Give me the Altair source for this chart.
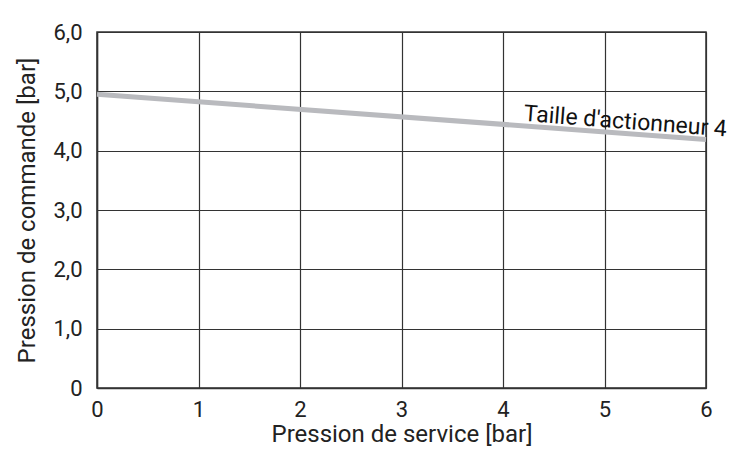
import altair as alt
import pandas as pd

# Data
x_service = [0, 6]
y_commande = [4.95, 4.19]
label_text = ["Taille d'actionneur 4"]
label_x = [4.205]
label_y = [4.62]

line_df = pd.DataFrame({"x": x_service, "y": y_commande})
lab_df = pd.DataFrame({"x": label_x, "y": label_y, "t": label_text})

FONT = "Roboto"
GRID = "#333333"

xscale = alt.Scale(domain=[0, 6], nice=False, zero=False)
yscale = alt.Scale(domain=[0, 6], nice=False, zero=False)

xaxis = alt.Axis(
    title="Pression de service [bar]", values=[0, 1, 2, 3, 4, 5, 6], format="d",
    grid=True, gridColor=GRID, gridWidth=1.2, gridOpacity=1,
    domain=True, domainColor=GRID, domainWidth=1.5,
    ticks=False, labelPadding=11, labelFontSize=22, labelFont=FONT,
    labelColor="#222222", titleFontSize=24, titleFont=FONT,
    titleFontWeight="normal", titleColor="#222222", titlePadding=2,
    labelFlush=False,
)
yaxis = alt.Axis(
    title="Pression de commande [bar]", values=[0, 1, 2, 3, 4, 5, 6],
    labelExpr="datum.value == 0 ? '0' : replace(format(datum.value, '.1f'), '.', ',')",
    grid=True, gridColor=GRID, gridWidth=1.2, gridOpacity=1,
    domain=True, domainColor=GRID, domainWidth=1.5,
    ticks=False, labelPadding=15, labelFontSize=22, labelFont=FONT,
    labelColor="#222222", titleFontSize=24, titleFont=FONT,
    titleFontWeight="normal", titleColor="#222222", titlePadding=13,
    labelFlush=False,
)

line = alt.Chart(line_df).mark_line(color="#b9babe", strokeWidth=5).encode(
    x=alt.X("x:Q", scale=xscale, axis=xaxis),
    y=alt.Y("y:Q", scale=yscale, axis=yaxis),
)

text = alt.Chart(lab_df).mark_text(
    align="left", baseline="middle", angle=4.4, fontSize=23, font=FONT,
    color="#111111",
).encode(
    x=alt.X("x:Q", scale=xscale, axis=xaxis),
    y=alt.Y("y:Q", scale=yscale, axis=yaxis),
    text="t:N",
)

chart = alt.layer(line, text).properties(
    width=609, height=356,
    autosize=alt.AutoSizeParams(type="none"),
    padding={"left": 89, "top": 24, "right": 27, "bottom": 60},
    background="white",
).configure_view(
    stroke=GRID, strokeWidth=1.5
)

chart.save("out.html", embed_options={"renderer": "svg", "actions": False})
